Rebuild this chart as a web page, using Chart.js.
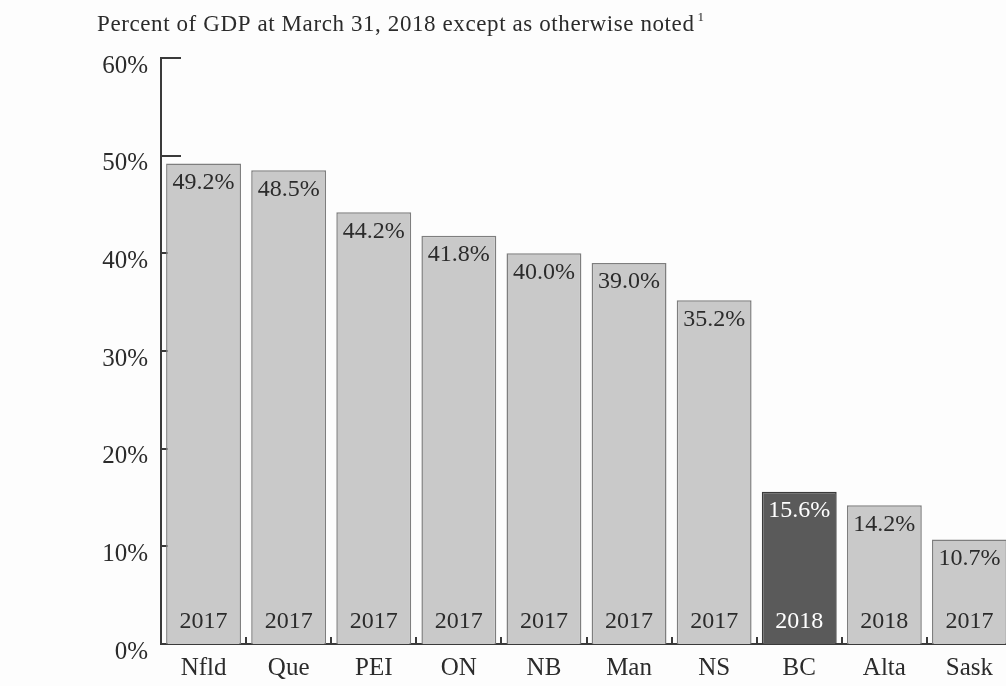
<!DOCTYPE html>
<html>
<head>
<meta charset="utf-8">
<script src="https://cdn.jsdelivr.net/npm/chart.js@4.4.1/dist/chart.umd.min.js"></script>
<style>
  html, body { margin: 0; padding: 0; background: #fdfdfd; overflow: hidden; }
  #wrap { width: 1030px; height: 686px; }
</style>
</head>
<body>
<div id="wrap"><canvas id="debtChart"></canvas></div>
<script>
// Net debt by province, % of GDP
const provinces = ['Nfld', 'Que', 'PEI', 'ON', 'NB', 'Man', 'NS', 'BC', 'Alta', 'Sask'];
const debtPct = [49.2, 48.5, 44.2, 41.8, 40.0, 39.0, 35.2, 15.6, 14.2, 10.7];
const dataYears = ['2017', '2017', '2017', '2017', '2017', '2017', '2017', '2018', '2018', '2017'];
const yTicks = [0, 10, 20, 30, 40, 50, 60];

const titleText = 'Percent of GDP at March 31, 2018 except as otherwise noted';
const FONT = '"Liberation Serif", "Times New Roman", serif';
const INK = '#2b2b2b';
const LIGHT = '#c9c9c9';
const DARK = '#5a5a5a';

const isBC = p => p === 'BC';

const decor = {
  id: 'decor',
  beforeDatasetsDraw(chart) {
    const { ctx, chartArea, scales: { x, y } } = chart;
    ctx.save();
    ctx.strokeStyle = '#3a3a3a';
    ctx.lineWidth = 2;
    // short inward ticks on the value axis
    yTicks.forEach(v => {
      const py = Math.round(y.getPixelForValue(v));
      ctx.beginPath();
      ctx.moveTo(chartArea.left, py);
      ctx.lineTo(chartArea.left + 20, py);
      ctx.stroke();
    });
    // small separators between categories on the baseline
    const base = y.getPixelForValue(0);
    for (let i = 1; i < provinces.length; i++) {
      const px = Math.round((x.getPixelForValue(i - 1) + x.getPixelForValue(i)) / 2);
      ctx.beginPath();
      ctx.moveTo(px, base);
      ctx.lineTo(px, base - 7);
      ctx.stroke();
    }
    ctx.restore();
  },
  afterDatasetsDraw(chart) {
    const { ctx } = chart;
    const meta = chart.getDatasetMeta(0);
    ctx.save();
    ctx.font = '24px ' + FONT;
    ctx.textAlign = 'center';
    ctx.textBaseline = 'middle';
    meta.data.forEach((bar, i) => {
      ctx.fillStyle = isBC(provinces[i]) ? '#ffffff' : INK;
      ctx.fillText(debtPct[i].toFixed(1) + '%', bar.x, bar.y + 19);
      ctx.fillText(dataYears[i], bar.x, bar.base - 22);
    });
    ctx.restore();
  },
  afterDraw(chart) {
    const { ctx } = chart;
    ctx.save();
    ctx.fillStyle = INK;
    ctx.textBaseline = 'alphabetic';
    ctx.textAlign = 'left';
    ctx.font = '23px ' + FONT;
    ctx.letterSpacing = '0.6px';
    ctx.fillText(titleText, 97, 31);
    const w = ctx.measureText(titleText).width;
    ctx.font = '13px ' + FONT;
    ctx.fillText('1', 97 + w + 3, 21);
    ctx.restore();
  }
};

new Chart(document.getElementById('debtChart'), {
  type: 'bar',
  data: {
    labels: provinces,
    datasets: [{
      data: debtPct,
      backgroundColor: provinces.map(p => isBC(p) ? DARK : LIGHT),
      borderColor: provinces.map(p => isBC(p) ? '#3a3a3a' : '#7e7e7e'),
      borderWidth: 1.5,
      borderSkipped: 'bottom',
      barPercentage: 0.88,
      categoryPercentage: 1.0
    }]
  },
  options: {
    responsive: true,
    maintainAspectRatio: false,
    animation: false,
    layout: { padding: { top: 58, right: 18, left: 0, bottom: 0 } },
    plugins: {
      legend: { display: false },
      tooltip: { enabled: false },
      title: { display: false }
    },
    scales: {
      x: {
        grid: { display: false, drawTicks: false },
        border: { display: true, color: '#3a3a3a', width: 2 },
        ticks: { color: INK, font: { family: FONT, size: 25 }, padding: 9, maxRotation: 0 },
        afterFit: s => { s.height = 42; }
      },
      y: {
        min: 0,
        max: 60,
        grid: { display: false, drawTicks: false },
        border: { display: true, color: '#3a3a3a', width: 2 },
        ticks: {
          stepSize: 10,
          color: INK,
          font: { family: FONT, size: 25 },
          padding: 13,
          labelOffset: 8,
          callback: v => v + '%'
        },
        afterFit: s => { s.width = 161; }
      }
    }
  },
  plugins: [decor]
});
</script>
</body>
</html>
